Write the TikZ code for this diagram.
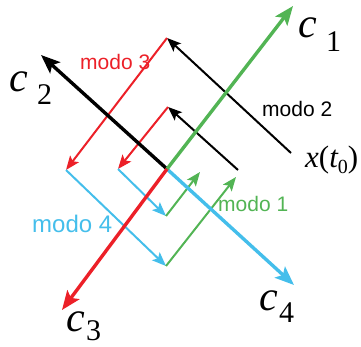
\documentclass[tikz,border=0pt]{standalone}
\usepackage{fontspec}
\setmainfont{Liberation Serif}
\newfontfamily\sansf{Liberation Sans}
\usetikzlibrary{arrows.meta}
\definecolor{mred}{RGB}{236,32,40}
\definecolor{mgreen}{RGB}{82,180,84}
\definecolor{mblue}{RGB}{68,190,235}
\tikzset{
  axis/.style={line width=3.4pt, -{Stealth[length=19pt,width=15pt,inset=4pt]}},
  thin/.style={line width=2pt, -{Stealth[length=14pt,width=11pt,inset=3pt]}},
  modolbl/.style={anchor=base west, inner sep=0pt, font=\sansf\fontsize{21}{21}\selectfont},
  cl/.style={anchor=base west, inner sep=0pt, font=\fontsize{42}{42}\selectfont\itshape},
  sub/.style={anchor=base west, inner sep=0pt, font=\fontsize{30}{30}\selectfont},
}
\begin{document}
\begin{tikzpicture}[x=1pt,y=-1pt]
\useasboundingbox (0,0) rectangle (361,347);
% coordinates
\coordinate (O) at (167,169);
\coordinate (T1) at (293,6);
\coordinate (T2) at (41,55);
\coordinate (T3) at (62,310);
\coordinate (T4) at (294,285);
\coordinate (P0) at (291,153);
\coordinate (P1) at (167,38);
\coordinate (P2) at (66,170);
\coordinate (P3) at (166,266);
\coordinate (P4) at (236,177);
\coordinate (Q0) at (238,170);
\coordinate (Q1) at (168,107);
\coordinate (Q2) at (118,169);
\coordinate (Q3) at (166,216);
\coordinate (Q4) at (200,172);
% thin path (modes)
\draw[thin, black] (P0) -- (P1);
\draw[thin, mred] (P1) -- (P2);
\draw[thin, mblue] (P2) -- (P3);
\draw[thin, mgreen] (P3) -- (P4);
\draw[thin, black] (Q0) -- (Q1);
\draw[thin, mred] (Q1) -- (Q2);
\draw[thin, mblue] (Q2) -- (Q3);
\draw[thin, mgreen] (Q3) -- (Q4);
% axes
\draw[axis, black] (O) -- (T2);
\draw[axis, mblue] (O) -- (T4);
\draw[axis, mgreen] (O) -- (T1);
\draw[axis, mred] (O) -- (T3);
% axis labels
\node[cl] (c1) at (298,38) {c};
\node[sub] (s1) at (326,52) {1};
\node[cl] (c2) at (9,92) {c};
\node[sub] (s2) at (37,105) {2};
\node[cl] (c3) at (66,331) {c};
\node[sub] (s3) at (86,340) {3};
\node[cl] (c4) at (259,310) {c};
\node[sub] (s4) at (279,322) {4};
% x(t0)
\node[anchor=base west, inner sep=0pt, font=\fontsize{31}{31}\selectfont] (xt) at (305,168) {\itshape x\upshape(\itshape t\upshape\raisebox{-6pt}{\fontsize{20}{20}\selectfont 0})};
% mode labels
\node[modolbl, text=mred] (m3) at (80,70) {modo 3};
\node[modolbl, text=black] (m2) at (262,117) {modo 2};
\node[modolbl, text=mblue, font=\sansf\fontsize{24}{24}\selectfont] (m4) at (32,233) {modo 4};
\node[modolbl, text=mgreen] (m1) at (218,212) {modo 1};
\end{tikzpicture}
\end{document}
